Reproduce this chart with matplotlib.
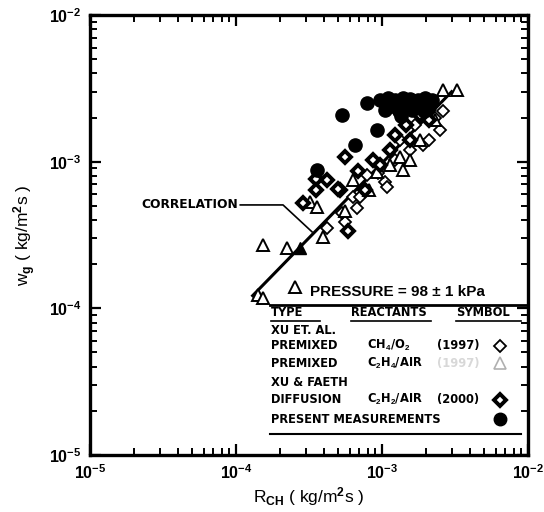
""" SOOT GROWTH RATE VS CH REACTION RATE """

import matplotlib
matplotlib.use("Agg")
import matplotlib.pyplot as plt
from matplotlib.ticker import LogLocator, NullFormatter, FixedLocator, FixedFormatter

plt.rcParams['font.family'] = ['Liberation Sans', 'DejaVu Sans']
plt.rcParams['font.weight'] = 'bold'
plt.rcParams['mathtext.fontset'] = 'custom'
plt.rcParams['mathtext.rm'] = 'Liberation Sans:bold'
plt.rcParams['mathtext.it'] = 'Liberation Sans:bold'
plt.rcParams['mathtext.bf'] = 'Liberation Sans:bold'

# Xu et al. premixed CH4/O2 (1997) - open diamonds
ch4_r = [4.2e-4, 5.58e-4, 5.3e-4, 6.7e-4, 6.33e-4, 7.07e-4, 7.88e-4, 9.39e-4,
         1.05e-3, 1.08e-3, 1.9e-3, 2.49e-3, 2.1e-3, 1.56e-3, 1.23e-3, 1.67e-3,
         1.33e-3, 2.3e-3, 2.6e-3]
ch4_w = [3.53e-4, 3.88e-4, 4.47e-4, 4.83e-4, 5.74e-4, 5.74e-4, 8.11e-4, 8.4e-4,
         7.27e-4, 6.73e-4, 1.30e-3, 1.64e-3, 1.41e-3, 1.2e-3, 1.03e-3, 1.78e-3,
         1.41e-3, 2.0e-3, 2.2e-3]

# Xu et al. premixed C2H4/air - open triangles
c2h4_r = [1.42e-4, 1.53e-4, 1.53e-4, 2.23e-4, 2.53e-4, 3.21e-4, 3.59e-4, 3.94e-4,
          6.33e-4, 9.2e-4, 1.39e-3, 1.33e-3, 2.62e-3, 3.26e-3, 1.82e-3, 2.3e-3,
          1.13e-3, 1.56e-3, 8.2e-4, 5.58e-4]
c2h4_w = [1.24e-4, 1.18e-4, 2.71e-4, 2.58e-4, 1.40e-4, 5.31e-4, 4.91e-4, 3.07e-4,
          7.5e-4, 8.51e-4, 8.78e-4, 1.08e-3, 3.08e-3, 3.08e-3, 1.41e-3, 1.92e-3,
          9.5e-4, 1.03e-3, 6.41e-4, 4.6e-4]
c2h4_filled_r = [2.74e-4]
c2h4_filled_w = [2.58e-4]

# Xu & Faeth diffusion C2H2/air (2000) - bold diamonds
c2h2_r = [5.58e-4, 8.67e-4, 3.53e-4, 4.2e-4, 3.53e-4, 2.88e-4, 5.15e-4, 5.85e-4,
          5.0e-4, 1.23e-3, 1.45e-3, 1.82e-3, 1.56e-3, 1.13e-3, 9.7e-4, 2.1e-3,
          7.6e-4, 6.9e-4]
c2h2_w = [1.07e-3, 1.03e-3, 7.6e-4, 7.5e-4, 6.41e-4, 5.23e-4, 6.41e-4, 3.37e-4,
          6.5e-4, 1.52e-3, 1.78e-3, 2.08e-3, 1.41e-3, 1.2e-3, 9.5e-4, 1.92e-3,
          6.41e-4, 8.6e-4]

# present measurements - filled circles
pres_r = [3.59e-4, 5.3e-4, 6.5e-4, 7.9e-4, 9.3e-4, 9.68e-4, 1.10e-3, 1.23e-3,
          1.39e-3, 1.56e-3, 1.77e-3, 1.97e-3, 2.20e-3, 1.17e-3, 1.45e-3, 1.8e-3,
          2.1e-3, 1.05e-3, 1.3e-3, 1.6e-3, 1.95e-3, 1.35e-3]
pres_w = [8.78e-4, 2.08e-3, 1.30e-3, 2.51e-3, 1.64e-3, 2.64e-3, 2.72e-3, 2.64e-3,
          2.72e-3, 2.68e-3, 2.64e-3, 2.72e-3, 2.64e-3, 2.40e-3, 2.45e-3, 2.42e-3,
          2.35e-3, 2.25e-3, 2.2e-3, 2.25e-3, 2.2e-3, 2.05e-3]

# correlation line
corr_r = [1.3e-4, 3.0e-3]
corr_w = [1.22e-4, 3.0e-3]

# leader from the CORRELATION label to the line
lead_r = [1.07e-4, 2.1e-4, 3.32e-4]
lead_w = [5.07e-4, 5.07e-4, 3.32e-4]

fig = plt.figure(figsize=(5.44, 5.12), dpi=100)
ax = fig.add_axes([0.1654, 0.1113, 0.8052, 0.8594])
ax.set_xscale('log')
ax.set_yscale('log')
ax.set_xlim(1e-5, 1e-2)
ax.set_ylim(1e-5, 1e-2)

LEG = ['DejaVu Sans']

ax.plot(corr_r, corr_w, color='black', lw=2.2, zorder=2)
ax.plot(lead_r, lead_w, color='black', lw=1.2, zorder=2)
ax.text(1.04e-4, 5.07e-4, 'CORRELATION', ha='right', va='center', fontsize=8.8,
        family=LEG)

ax.plot(ch4_r, ch4_w, 'D', ms=6.5, mfc='white', mec='black', mew=1.3, zorder=3)
ax.plot(c2h4_r, c2h4_w, '^', ms=9, mfc='white', mec='black', mew=1.4, zorder=3)
ax.plot(c2h4_filled_r, c2h4_filled_w, '^', ms=9, mfc='black', mec='black', zorder=3)
ax.plot(c2h2_r, c2h2_w, 'D', ms=6, mfc='white', mec='black', mew=2.8, zorder=3)
ax.plot(pres_r, pres_w, 'o', ms=9.5, mfc='black', mec='black', zorder=4)

# legend table inside the plot
tr = ax.transAxes
fs = 8.3
ax.text(0.503, 0.371, 'PRESSURE = 98 \u00b1 1 kPa', transform=tr, fontsize=11,
        ha='left', va='center')
ax.plot([0.411, 1.0], [0.341, 0.341], transform=tr, color='black', lw=2, clip_on=False)
ax.text(0.414, 0.323, 'TYPE', transform=tr, fontsize=fs, ha='left', va='center',
        family=LEG)
ax.text(0.597, 0.323, 'REACTANTS', transform=tr, fontsize=fs, ha='left', va='center',
        family=LEG)
ax.text(0.836, 0.323, 'SYMBOL', transform=tr, fontsize=fs, ha='left', va='center',
        family=LEG)
for x0, x1 in [(0.414, 0.525), (0.597, 0.778), (0.836, 0.985)]:
    ax.plot([x0, x1], [0.305, 0.305], transform=tr, color='black', lw=1.2)
ax.text(0.414, 0.283, 'XU ET. AL.', transform=tr, fontsize=fs, ha='left', va='center',
        family=LEG)
ax.text(0.414, 0.248, 'PREMIXED', transform=tr, fontsize=fs, ha='left', va='center',
        family=LEG)
ax.text(0.632, 0.248, r'CH$_4$/O$_2$', transform=tr, fontsize=fs, ha='left',
        va='center', family=LEG)
ax.text(0.793, 0.248, '(1997)', transform=tr, fontsize=fs, ha='left', va='center',
        family=LEG)
ax.plot([0.935], [0.248], 'D', transform=tr, ms=6.3, mfc='white', mec='black', mew=1.3)
ax.text(0.414, 0.209, 'PREMIXED', transform=tr, fontsize=fs, ha='left', va='center',
        family=LEG)
ax.text(0.632, 0.209, r'C$_2$H$_4$/AIR', transform=tr, fontsize=fs, ha='left',
        va='center', family=LEG)
ax.text(0.793, 0.209, '(1997)', transform=tr, fontsize=fs, ha='left', va='center',
        color='#d8d8d8', family=LEG)
ax.plot([0.935], [0.209], '^', transform=tr, ms=8, mfc='white', mec='#b0b0b0', mew=1.2)
ax.text(0.414, 0.164, 'XU & FAETH', transform=tr, fontsize=fs, ha='left', va='center',
        family=LEG)
ax.text(0.414, 0.126, 'DIFFUSION', transform=tr, fontsize=fs, ha='left', va='center',
        family=LEG)
ax.text(0.632, 0.126, r'C$_2$H$_2$/AIR', transform=tr, fontsize=fs, ha='left',
        va='center', family=LEG)
ax.text(0.793, 0.126, '(2000)', transform=tr, fontsize=fs, ha='left', va='center',
        family=LEG)
ax.plot([0.935], [0.126], 'D', transform=tr, ms=6, mfc='white', mec='black', mew=2.8)
ax.text(0.414, 0.081, 'PRESENT MEASUREMENTS', transform=tr, fontsize=fs,
        ha='left', va='center', family=LEG)
ax.plot([0.935], [0.081], 'o', transform=tr, ms=9, mfc='black', mec='black')
ax.plot([0.411, 0.985], [0.047, 0.047], transform=tr, color='black', lw=1.5)

# ticks and spines
ticks = [1e-5, 1e-4, 1e-3, 1e-2]
labels = [r'$\mathbf{10^{-5}}$', r'$\mathbf{10^{-4}}$', r'$\mathbf{10^{-3}}$',
          r'$\mathbf{10^{-2}}$']
for axis in (ax.xaxis, ax.yaxis):
    axis.set_major_locator(FixedLocator(ticks))
    axis.set_major_formatter(FixedFormatter(labels))
    axis.set_minor_locator(LogLocator(base=10, subs=range(2, 10)))
    axis.set_minor_formatter(NullFormatter())
ax.tick_params(which='both', direction='in', top=True, right=True, labelsize=11.5)
ax.tick_params(which='major', length=8, width=1.6, pad=6)
ax.tick_params(which='minor', length=5, width=1.4)
for sp in ax.spines.values():
    sp.set_linewidth(2.4)

ax.set_xlabel(r'R$_{\mathbf{CH}}$ ( kg/m$^{\mathbf{2}}$s )', fontsize=12.5, labelpad=2)
ax.set_ylabel(r'w$_{\mathbf{g}}$ ( kg/m$^{\mathbf{2}}$s )', fontsize=12.5, labelpad=8)

fig.savefig('out.png', dpi=100)
